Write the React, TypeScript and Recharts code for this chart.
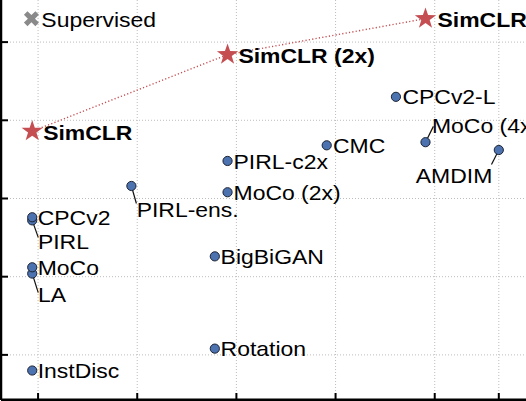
import React from 'react';
import { ScatterChart, Scatter, XAxis, YAxis, ReferenceLine } from 'recharts';

// ---- data ----
const methodNames = ['InstDisc', 'LA', 'MoCo', 'PIRL', 'CPCv2', 'PIRL-ens.', 'BigBiGAN', 'Rotation', 'PIRL-c2x', 'MoCo (2x)', 'CMC', 'CPCv2-L', 'MoCo (4x)', 'AMDIM'];
const methodParams = [24, 24, 24, 24, 24, 48, 86, 86, 94, 94, 188, 305, 375, 626];
const methodTop1 = [54.0, 60.2, 60.6, 63.6, 63.8, 65.8, 61.3, 55.4, 67.4, 65.4, 68.4, 71.5, 68.6, 68.1];

const simclrNames = ['SimCLR', 'SimCLR (2x)', 'SimCLR (4x)'];
const simclrParams = [24, 94, 375];
const simclrTop1 = [69.3, 74.2, 76.5];

const supervisedNames = ['Supervised'];
const supervisedParams = [24];
const supervisedTop1 = [76.5];

const xTicks = [25, 50, 100, 200, 400, 626];
const yTicks = [55, 60, 65, 70, 75];

// ---- layout / style ----
const X_DOMAIN: [number, number] = [19.294, 1269.9];
const Y_DOMAIN: [number, number] = [52.115, 77.692];
const FONT = '"Liberation Sans", Arial, Helvetica, sans-serif';
const BLUE = '#4C72B0';
const RED = '#C44E52';
const GRAY = '#8a8a8a';
const GRID = '#bdbdbd';

type LabelLayout = { dx: number; dy: number; leader?: [number, number, number, number] };
const labelLayout: Record<string, LabelLayout> = {
  'InstDisc': { dx: 5.5, dy: 7.7 },
  'LA': { dx: 5.7, dy: 28.4, leader: [0, 0, 6, 19] },
  'MoCo': { dx: 5.5, dy: 7.5 },
  'PIRL': { dx: 5.7, dy: 28.2, leader: [0, 0, 6, 17] },
  'CPCv2': { dx: 5.5, dy: 7.3 },
  'PIRL-ens.': { dx: 5.3, dy: 30.8, leader: [0, 0, 5, 17.5] },
  'BigBiGAN': { dx: 5.8, dy: 7.6 },
  'Rotation': { dx: 5.8, dy: 7.6 },
  'PIRL-c2x': { dx: 6, dy: 7.6 },
  'MoCo (2x)': { dx: 6, dy: 7.6 },
  'CMC': { dx: 6.3, dy: 8 },
  'CPCv2-L': { dx: 6.5, dy: 7.4 },
  'MoCo (4x)': { dx: 6.5, dy: -8.8, leader: [0, 0, 7.9, -15.8] },
  'AMDIM': { dx: -83, dy: 33.4, leader: [0, 0, -7.3, 14.4] },
  'SimCLR': { dx: 10.9, dy: 9.1 },
  'SimCLR (2x)': { dx: 10.9, dy: 8.8 },
  'SimCLR (4x)': { dx: 12, dy: 8.4 },
  'Supervised': { dx: 9.1, dy: 8.4 },
};

const methodData = methodNames.map((name, i) => ({ name, x: methodParams[i], y: methodTop1[i] }));
const simclrData = simclrNames.map((name, i) => ({ name, x: simclrParams[i], y: simclrTop1[i] }));
const supervisedData = supervisedNames.map((name, i) => ({ name, x: supervisedParams[i], y: supervisedTop1[i] }));

function Txt({ x, y, text, bold }: { x: number; y: number; text: string; bold?: boolean }) {
  return (
    <text
      transform={`translate(${x} ${y}) scale(1.12 1)`}
      fontFamily={FONT}
      fontSize={20.5}
      fontWeight={bold ? 'bold' : 'normal'}
      fill="#000"
    >
      {text}
    </text>
  );
}

function starPoints(cx: number, cy: number, R: number, r: number) {
  const pts: string[] = [];
  for (let i = 0; i < 10; i++) {
    const rad = i % 2 === 0 ? R : r;
    const a = -Math.PI / 2 + (i * Math.PI) / 5;
    pts.push(`${cx + rad * Math.cos(a)},${cy + rad * Math.sin(a)}`);
  }
  return pts.join(' ');
}

function xPoints(cx: number, cy: number, a: number, t: number) {
  const base: [number, number][] = [
    [t, a], [t, t], [a, t], [a, -t], [t, -t], [t, -a],
    [-t, -a], [-t, -t], [-a, -t], [-a, t], [-t, t], [-t, a],
  ];
  const c = Math.SQRT1_2;
  return base
    .map(([px, py]) => `${cx + (px - py) * c},${cy + (px + py) * c}`)
    .join(' ');
}

function MethodShape(props: any) {
  const { cx, cy, payload } = props;
  if (cx == null || cy == null) return null;
  const name = payload?.name as string;
  const lay = labelLayout[name] || { dx: 6, dy: 7.5 };
  return (
    <g>
      {lay.leader && (
        <line
          x1={cx + lay.leader[0]}
          y1={cy + lay.leader[1]}
          x2={cx + lay.leader[2]}
          y2={cy + lay.leader[3]}
          stroke="#111"
          strokeWidth={1.2}
        />
      )}
      <circle cx={cx} cy={cy} r={4.6} fill={BLUE} stroke="#1c2333" strokeWidth={1} />
      <Txt x={cx + lay.dx} y={cy + lay.dy} text={name} />
    </g>
  );
}

function StarShape(props: any) {
  const { cx, cy, payload } = props;
  if (cx == null || cy == null) return null;
  const name = payload?.name as string;
  const lay = labelLayout[name] || { dx: 11, dy: 9 };
  return (
    <g>
      <polygon points={starPoints(cx, cy, 11.2, 4.4)} fill={RED} />
      <Txt x={cx + lay.dx} y={cy + lay.dy} text={name} bold />
    </g>
  );
}

function XShape(props: any) {
  const { cx, cy, payload } = props;
  if (cx == null || cy == null) return null;
  const name = payload?.name as string;
  const lay = labelLayout[name] || { dx: 9, dy: 8 };
  return (
    <g>
      <polygon points={xPoints(cx - 0.8, cy, 8.1, 2.5)} fill={GRAY} />
      <Txt x={cx + lay.dx} y={cy + lay.dy} text={name} />
    </g>
  );
}

const NoTickLabel = () => <g />;

export default function App() {
  return (
    <div
      style={{
        position: 'fixed',
        left: 0,
        top: 0,
        width: 526,
        height: 401,
        overflow: 'hidden',
        background: '#fff',
      }}
    >
      <ScatterChart width={620} height={401} margin={{ top: 0, right: 20, bottom: 1, left: 1 }}>
        <XAxis
          dataKey="x"
          type="number"
          scale="log"
          domain={X_DOMAIN}
          ticks={xTicks}
          interval={0}
          allowDataOverflow
          height={1}
          mirror
          tick={NoTickLabel}
          tickSize={7}
          tickLine={{ stroke: '#000', strokeWidth: 2 }}
          axisLine={{ stroke: '#000', strokeWidth: 3 }}
        />
        <YAxis
          dataKey="y"
          type="number"
          domain={Y_DOMAIN}
          ticks={yTicks}
          interval={0}
          allowDataOverflow
          width={1}
          mirror
          tick={NoTickLabel}
          tickSize={7}
          tickLine={{ stroke: '#000', strokeWidth: 2 }}
          axisLine={{ stroke: '#000', strokeWidth: 2.5 }}
        />
        {xTicks.map((v) => (
          <ReferenceLine key={`gx${v}`} x={v} stroke={GRID} strokeWidth={1} strokeDasharray="1 2" />
        ))}
        {yTicks.map((v) => (
          <ReferenceLine key={`gy${v}`} y={v} stroke={GRID} strokeWidth={1} strokeDasharray="1 2" />
        ))}
        <Scatter data={methodData} shape={<MethodShape />} isAnimationActive={false} />
        <Scatter
          data={simclrData}
          shape={<StarShape />}
          line={{ stroke: RED, strokeWidth: 1.4, strokeDasharray: '1.2 2.2' }}
          lineType="joint"
          isAnimationActive={false}
        />
        <Scatter data={supervisedData} shape={<XShape />} isAnimationActive={false} />
      </ScatterChart>
    </div>
  );
}
